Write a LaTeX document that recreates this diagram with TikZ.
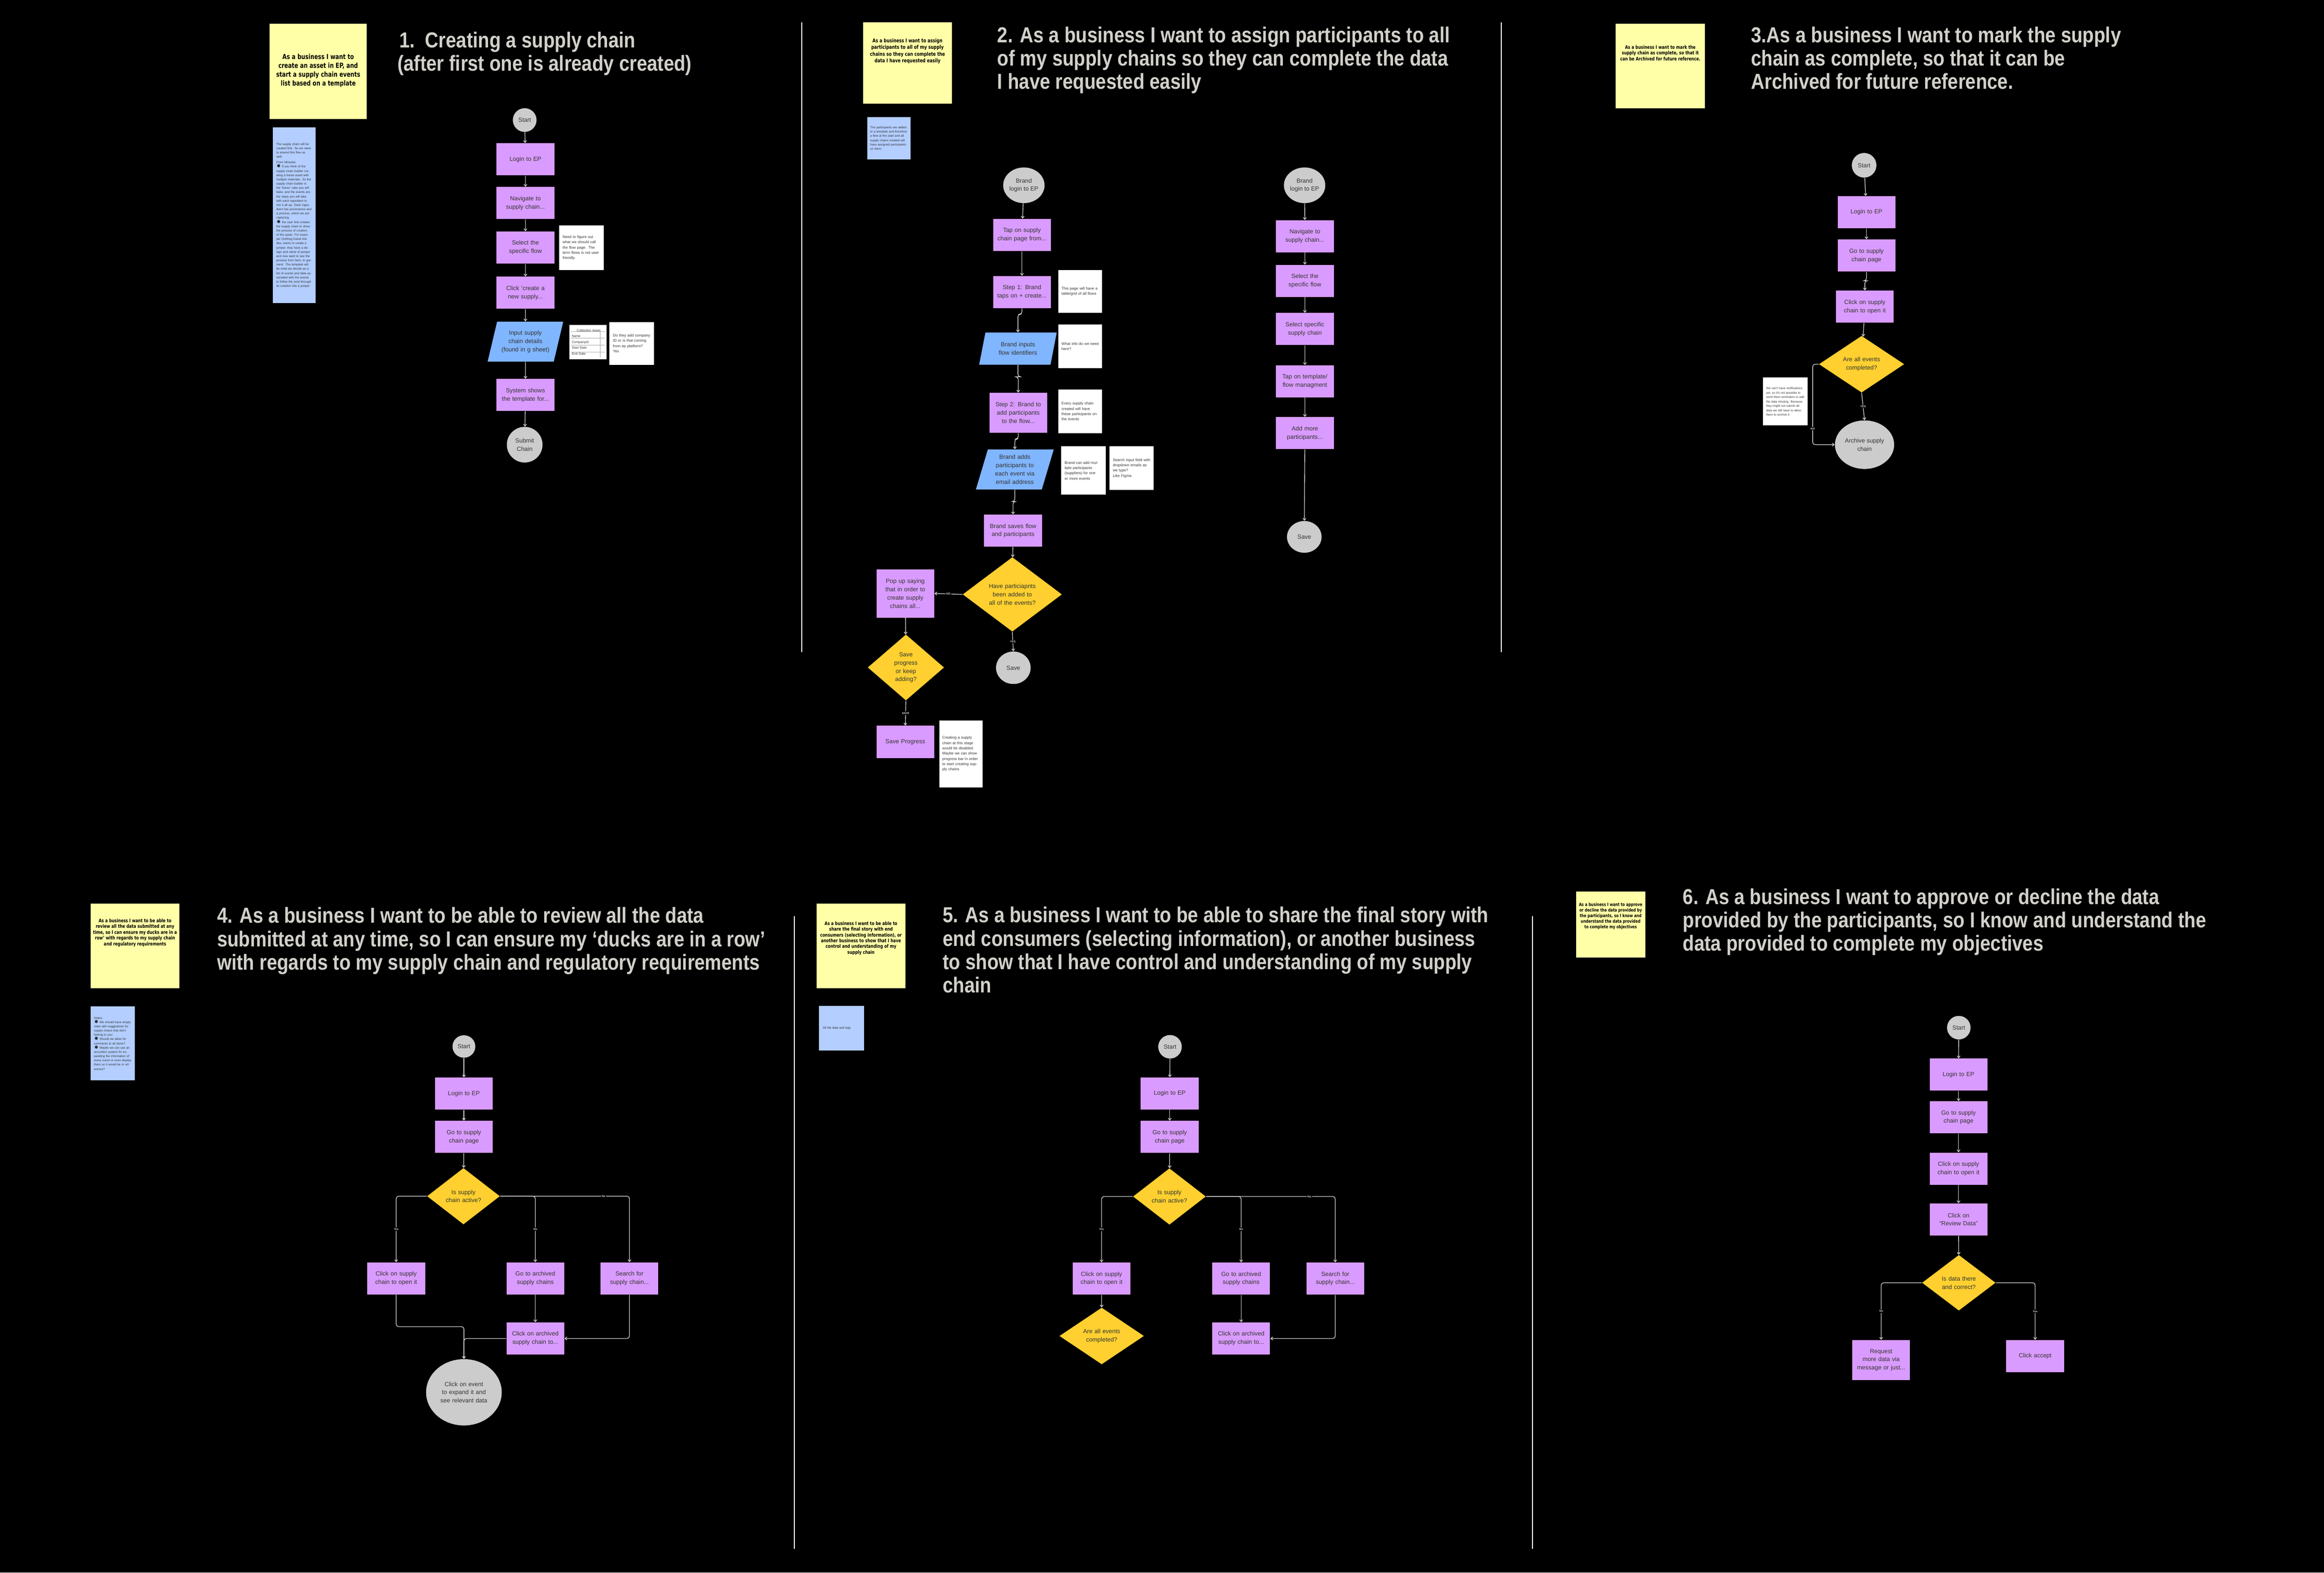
\documentclass[tikz,border=0pt]{standalone}
\usepackage{fontspec}
\setmainfont{Liberation Sans}
\newfontfamily\headfont[FakeStretch=0.86,Ligatures=TeX]{Liberation Sans}
\newfontfamily\stickfont[FakeStretch=0.78,Ligatures=TeX]{DejaVu Sans}
\usetikzlibrary{arrows.meta,shapes.geometric}
\definecolor{boxpurple}{HTML}{D99BFF}
\definecolor{ioblue}{HTML}{80B5FF}
\definecolor{decyellow}{HTML}{FFD02F}
\definecolor{termgray}{HTML}{CCCCCC}
\definecolor{stickyyellow}{HTML}{FFFFA8}
\definecolor{memoblue}{HTML}{B3CEFF}
\definecolor{headgray}{HTML}{D2D0CA}
\definecolor{linkgray}{HTML}{D8D8D8}
\definecolor{inkdark}{HTML}{333333}
\newcommand{\boxfont}{\fontsize{4.8}{6.6}\selectfont\hyphenpenalty=10000\exhyphenpenalty=10000}
\tikzset{
  box/.style={rectangle, fill=boxpurple, minimum width=1.62cm, minimum height=0.9cm, inner sep=0pt,
    text width=1.5cm, align=center, text=inkdark, font=\boxfont},
  io/.style={trapezium, trapezium left angle=70, trapezium right angle=110, trapezium stretches=true,
    fill=ioblue, inner sep=0pt, text width=1.35cm, align=center, text=inkdark, font=\boxfont},
  decision/.style={diamond, fill=decyellow, inner sep=0pt, text width=1.2cm, align=center, text=inkdark,
    font=\boxfont},
  terminal/.style={ellipse, fill=termgray, inner sep=0pt, align=center, text=inkdark, font=\boxfont},
  sticky/.style={rectangle, fill=stickyyellow, inner sep=0pt, text=black, align=center},
  memo/.style={rectangle, fill=memoblue, inner sep=1.2pt, anchor=north west, text=inkdark, align=left,
    font=\fontsize{2.4}{3.4}\selectfont},
  comment/.style={rectangle, fill=white, inner sep=1.5pt, anchor=north west, text=inkdark, align=left,
    font=\fontsize{3}{4.2}\selectfont},
  heading/.style={anchor=north west, inner sep=0pt, align=left, text=headgray,
    font=\headfont\bfseries\fontsize{17.3}{18.6}\selectfont},
  link/.style={draw=linkgray, line width=0.5pt, rounded corners=2pt, -{Straight Barb[length=1.6pt,width=2.4pt]}},
  tag/.style={fill=black, inner sep=0.6pt, text=linkgray, font=\bfseries\fontsize{2.2}{2.4}\selectfont},
  divider/.style={draw=white, line width=0.6pt}
}
\newcommand{\stick}[4]{\parbox[c][#1][t]{#2}{\centering\vspace*{#3}\stickfont\bfseries #4}}
\begin{document}
\begin{tikzpicture}[x=0.04156cm, y=-0.04156cm]
\fill[black] (0,0) rectangle (1568,1061);
\useasboundingbox (0,0) rectangle (1568,1061);

% panel dividers
\draw[divider] (541,15) -- (541,440);
\draw[divider] (1013,15) -- (1013,440);
\draw[divider] (536,618) -- (536,1045);
\draw[divider] (1034,618) -- (1034,1045);

% ---------- 1. creating a supply chain ----------
\node[sticky, minimum width=2.72cm, minimum height=2.67cm] (p1sticky) at (214.7,48.1)
  {\stick{2.67cm}{2.4cm}{0cm}{\vspace*{0.85cm}\fontsize{5.6}{7}\selectfont As a business I want to create an asset in EP, and start a supply chain events list based on a template}};
\node[memo, minimum width=1.19cm, minimum height=4.93cm, text width=1.0cm] (p1memo) at (184,85.8)
  {The supply chain will be created first. So we need to amend this flow as well.\\[1pt]
   From Miranda:\\
   $\bullet$ If you think of the supply chain builder creating a future asset with multiple materials. So the supply chain builder is the ‘future’ cake you will bake, and the events are the steps you will take with each ingredient to mix it all up. Each ingredient has provenance and a process, which we are capturing.\\
   $\bullet$ the user first creates the supply chain to show the process of creation of the asset. For example Clothing brand Adidas, wants to create a jumper, they have a design and name of jumper and now want to see the process from farm, to garment. The template will be what we decide as a list of events and data associated with the events to follow the wool through its creation into a jumper};
\node[heading] (p1head) at (268,21.4) {\hspace*{1.5pt}1.\ \ Creating a supply chain\\(after first one is already created)};

\node[terminal, minimum width=0.665cm, minimum height=0.665cm] (p1start) at (354,81) {Start};
\node[box] (p1login) at (354.5,107.5) {Login to EP};
\node[box] (p1nav) at (354.5,137) {Navigate to supply chain...};
\node[box] (p1flow) at (354.5,167) {Select the specific flow};
\node[box] (p1create) at (354.5,197.5) {Click ‘create a new supply...};
\node[io, minimum width=2.12cm, minimum height=1.12cm] (p1input) at (354.5,230.5) {Input supply chain details (found in g sheet)};
\node[box] (p1system) at (354.5,266.5) {System shows the template for...};
\node[terminal, minimum width=1cm, minimum height=1cm] (p1submit) at (354,300) {Submit\\Chain};

\node[comment, minimum width=1.25cm, minimum height=1.25cm, text width=1.05cm] (p1note) at (377,152)
  {Need to figure out what we should call the flow page. The term flows is not user friendly.};
\node[comment, minimum width=1.04cm, minimum height=0.96cm, text width=0.9cm, inner sep=1pt,
  font=\fontsize{2.6}{4.6}\selectfont] (p1table) at (384,219)
  {\hspace*{4pt}Collection Asset\\Name\\CompanyId\\Start Date\\End Date};
\foreach \r in {223.6,228.2,232.8,237.4}
  \draw[gray!70, line width=0.2pt] (385,\r) -- (408,\r);
\draw[gray!70, line width=0.2pt] (405,223.6) -- (405,241);
\node[comment, minimum width=1.25cm, minimum height=1.2cm, text width=1.05cm] (p1ask) at (411,217)
  {Do they add company ID or is that coming from ep platform? Yes};

\draw[link] (p1start) -- (p1login);
\draw[link] (p1login) -- (p1nav);
\draw[link] (p1nav) -- (p1flow);
\draw[link] (p1flow) -- (p1create);
\draw[link] (p1create) -- (p1input);
\draw[link] (p1input) -- (p1system);
\draw[link] (p1system) -- (p1submit);

% ---------- 2. assign participants ----------
\node[sticky, minimum width=2.5cm, minimum height=2.27cm] (p2sticky) at (612.3,42.5)
  {\stick{2.27cm}{2.2cm}{0cm}{\vspace*{0.45cm}\fontsize{4.2}{5.3}\selectfont As a business I want to assign participants to all of my supply chains so they can complete the data I have requested easily}};
\node[memo, minimum width=1.22cm, minimum height=1.19cm, text width=1.05cm] (p2memo) at (584.9,78.7)
  {The participants are added to a template and therefore a flow at the start and all supply chains created will have assigned participants on them};
\node[heading] (p2head) at (672.8,17.8) {2. As a business I want to assign participants to all\\of my supply chains so they can complete the data\\I have requested easily};

\node[terminal, minimum width=1.16cm, minimum height=1cm] (p2login) at (690.8,125) {Brand\\login to EP};
\node[box] (p2tap) at (689.5,158.5) {Tap on supply chain page from...};
\node[box] (p2step) at (689.5,197) {Step 1: Brand taps on + create...};
\node[io, minimum width=2.18cm, minimum height=0.9cm] (p2ident) at (686.8,235.2) {Brand inputs flow identifiers};
\node[box, minimum height=1.12cm] (p2add) at (687,278.5) {Step 2: Brand to add participants to the flow...};
\node[io, minimum width=2.19cm, minimum height=1.12cm] (p2email) at (684.7,316.7) {Brand adds participants to each event via email address};
\node[box] (p2saves) at (683.5,358) {Brand saves flow and participants};
\node[decision, minimum width=2.78cm, minimum height=1.89cm, text width=1.5cm] (p2have) at (683,401) {Have particiapnts been added to all of the events?};
\node[box, minimum height=1.35cm, text width=1.3cm] (p2popup) at (610.8,400.4) {Pop up saying that in order to create supply chains all...};
\node[decision, minimum width=2.14cm, minimum height=1.53cm, text width=1.0cm] (p2keep) at (611.2,450.3) {Save progress or keep adding?};
\node[terminal, minimum width=0.97cm, minimum height=0.91cm] (p2save) at (683.7,450.5) {Save};
\node[box] (p2progress) at (610.8,500.5) {Save Progress};

\node[comment, minimum width=1.23cm, minimum height=1.2cm, text width=1.05cm] (p2grid) at (713.9,182) {This page will have a table/grid of all flows};
\node[comment, minimum width=1.23cm, minimum height=1.22cm, text width=1.05cm] (p2info) at (713.9,218.8) {What info do we need here?};
\node[comment, minimum width=1.23cm, minimum height=1.22cm, text width=1.05cm] (p2every) at (713.9,262.7) {Every supply chain created will have these participants on the events};
\node[comment, minimum width=1.24cm, minimum height=1.35cm, text width=1.05cm] (p2multi) at (715.9,301) {Brand can add multiple participants (suppliers) for one or more events};
\node[comment, minimum width=1.23cm, minimum height=1.22cm, text width=1.05cm] (p2search) at (748.5,301) {Search input field with dropdown emails as we type?\\Like Figma};
\node[comment, minimum width=1.21cm, minimum height=1.88cm, text width=1.05cm] (p2disabled) at (633.7,485.8) {Creating a supply chain at this stage would be disabled.\\Maybe we can show progress bar in order to start creating supply chains};

\node[terminal, minimum width=1.16cm, minimum height=1cm] (p2blogin) at (880.2,125) {Brand\\login to EP};
\node[box] (p2bnav) at (880.4,159.4) {Navigate to supply chain...};
\node[box] (p2bflow) at (880.4,189.5) {Select the specific flow};
\node[box] (p2bchain) at (880.4,222) {Select specific supply chain};
\node[box] (p2btemp) at (880.4,257.2) {Tap on template/ flow managment};
\node[box] (p2bmore) at (880.4,292.2) {Add more participants...};
\node[terminal, minimum width=0.97cm, minimum height=0.89cm] (p2bsave) at (880,362.2) {Save};

\draw[link] (p2login) -- (p2tap);
\draw[link] (p2tap) -- (p2step);
\draw[link] (p2step.south) -- ++(0,4) -| (p2ident.north);
\draw[link] (p2ident.south) -- ++(0,8) -| (p2add.north);
\draw[link] (p2add.south) -- ++(0,4) -| (p2email.north);
\draw[link] (p2email.south) -- ++(0,8) -| (p2saves.north);
\draw[link] (p2saves) -- (p2have);
\draw[link] (p2have.west) -- node[tag]{NO} (p2popup.east);
\draw[link] (p2have.south) -- node[tag]{YES} (p2save.north);
\draw[link] (p2popup) -- (p2keep);
\draw[link] (p2keep.south) -- node[tag]{SAVE} (p2progress.north);
\draw[link] (p2blogin) -- (p2bnav);
\draw[link] (p2bnav) -- (p2bflow);
\draw[link] (p2bflow) -- (p2bchain);
\draw[link] (p2bchain) -- (p2btemp);
\draw[link] (p2btemp) -- (p2bmore);
\draw[link] (p2bmore) -- (p2bsave);

% ---------- 3. mark as complete ----------
\node[sticky, minimum width=2.5cm, minimum height=2.37cm] (p3sticky) at (1120.2,44.5)
  {\stick{2.37cm}{2.35cm}{0.6cm}{\fontsize{3.9}{4.8}\selectfont As a business I want to mark the supply chain as complete, so that it can be Archived for future reference.}};
\node[heading] (p3head) at (1181.3,17.8) {3.As a business I want to mark the supply\\chain as complete, so that it can be\\Archived for future reference.};

\node[terminal, minimum width=0.69cm, minimum height=0.69cm] (p3start) at (1257.7,111.5) {Start};
\node[box] (p3login) at (1259.3,143.2) {Login to EP};
\node[box] (p3goto) at (1259.3,172.4) {Go to supply chain page};
\node[box] (p3open) at (1258.2,206.9) {Click on supply chain to open it};
\node[decision, minimum width=2.39cm, minimum height=1.58cm] (p3dec) at (1256,245.7) {Are all events completed?};
\node[terminal, minimum width=1.66cm, minimum height=1.36cm] (p3arc) at (1258,300) {Archive supply\\chain};
\node[comment, minimum width=1.25cm, minimum height=1.34cm, text width=1.08cm, font=\fontsize{2.4}{3.5}\selectfont] (p3note) at (1189.4,254.6)
  {We can't have notifications yet, so it's not possible to send them reminders to add the data missing. Because they might not submit all data we still have to allow them to archive it};
\coordinate (p3no) at (1223,245.7);

\draw[link] (p3start) -- (p3login);
\draw[link] (p3login) -- (p3goto);
\draw[link] (p3goto.south) -- ++(0,6) -| (p3open.north);
\draw[link] (p3open) -- (p3dec);
\draw[link] (p3dec.south) -- node[tag]{YES} (p3arc.north);
\draw[link] (p3dec.west) -- (p3no) |- node[tag, pos=0.4]{NO} (p3arc.west);

% ---------- 4. review all data ----------
\node[sticky, minimum width=2.5cm, minimum height=2.37cm] (p4sticky) at (91.1,638.2)
  {\stick{2.37cm}{2.35cm}{0.42cm}{\fontsize{3.9}{4.6}\selectfont As a business I want to be able to review all the data submitted at any time, so I can ensure my ducks are in a row’ with regards to my supply chain and regulatory requirements}};
\node[memo, minimum width=1.24cm, minimum height=2.07cm, text width=1.05cm] (p4memo) at (61,678.9)
  {Notes:\\
   $\bullet$ We should have empty state with suggestions for supply chains that don't belong to you\\
   $\bullet$ Should we allow for comments to all items?\\
   $\bullet$ Maybe we can use an accordion system for expanding the information of every event or even display them so it would be in reference?};
\node[heading] (p4head) at (146.3,612) {4. As a business I want to be able to review all the data\\submitted at any time, so I can ensure my ‘ducks are in a row’\\with regards to my supply chain and regulatory requirements};

\node[terminal, minimum width=0.64cm, minimum height=0.63cm] (p4start) at (313,706) {Start};
\node[box] (p4login) at (313,737.8) {Login to EP};
\node[box] (p4goto) at (313,767) {Go to supply chain page};
\node[decision, minimum width=2.04cm, minimum height=1.58cm, text width=1cm] (p4dec) at (312.7,807) {Is supply chain active?};
\node[box] (p4open) at (267.3,862.5) {Click on supply chain to open it};
\node[box] (p4arch) at (361.2,862.5) {Go to archived supply chains};
\node[box] (p4find) at (424.7,862.5) {Search for supply chain...};
\node[box] (p4pick) at (361.2,903) {Click on archived supply chain to...};
\node[terminal, minimum width=2.12cm, minimum height=1.86cm, text width=1.5cm] (p4event) at (313,939.3) {Click on event to expand it and see relevant data};
\coordinate (p4join) at (313,895);

\draw[link] (p4start) -- (p4login);
\draw[link] (p4login) -- (p4goto);
\draw[link] (p4goto) -- (p4dec);
\draw[link] (p4dec.west) -| node[tag, pos=0.75]{Yes} (p4open.north);
\draw[link] (p4dec.east) -| node[tag, pos=0.75]{No} (p4arch.north);
\draw[link] (p4dec.east) -| node[tag, pos=0.4]{No} (p4find.north);
\draw[link] (p4open.south) |- (p4join) -- (p4event.north);
\draw[link] (p4arch) -- (p4pick);
\draw[link] (p4find.south) |- (p4pick.east);
\draw[link] (p4pick.west) -| (p4event.north);

% ---------- 5. share the final story ----------
\node[sticky, minimum width=2.49cm, minimum height=2.37cm] (p5sticky) at (580.9,638.1)
  {\stick{2.37cm}{2.35cm}{0.5cm}{\fontsize{3.9}{4.6}\selectfont As a business I want to be able to share the final story with end consumers (selecting information), or another business to show that I have control and understanding of my supply chain}};
\node[memo, minimum width=1.26cm, minimum height=1.25cm, text width=1.05cm] (p5memo) at (552.5,678.4) {All the data and logs};
\node[heading] (p5head) at (635.9,611.7) {5. As a business I want to be able to share the final story with\\end consumers (selecting information), or another business\\to show that I have control and understanding of my supply\\chain};

\node[terminal, minimum width=0.66cm, minimum height=0.66cm] (p5start) at (789.4,706.2) {Start};
\node[box] (p5login) at (789.2,737.7) {Login to EP};
\node[box] (p5goto) at (789.2,767) {Go to supply chain page};
\node[decision, minimum width=2.04cm, minimum height=1.58cm, text width=1cm] (p5dec) at (789,807.2) {Is supply chain active?};
\node[box] (p5open) at (743.2,862.6) {Click on supply chain to open it};
\node[box] (p5arch) at (837.4,862.6) {Go to archived supply chains};
\node[box] (p5find) at (900.9,862.6) {Search for supply chain...};
\node[box] (p5pick) at (837.4,903) {Click on archived supply chain to...};
\node[decision, minimum width=2.37cm, minimum height=1.55cm] (p5done) at (743.3,901.3) {Are all events completed?};

\draw[link] (p5start) -- (p5login);
\draw[link] (p5login) -- (p5goto);
\draw[link] (p5goto) -- (p5dec);
\draw[link] (p5dec.west) -| node[tag, pos=0.75]{Yes} (p5open.north);
\draw[link] (p5dec.east) -| node[tag, pos=0.75]{No} (p5arch.north);
\draw[link] (p5dec.east) -| node[tag, pos=0.4]{No} (p5find.north);
\draw[link] (p5open) -- (p5done);
\draw[link] (p5arch) -- (p5pick);
\draw[link] (p5find.south) |- (p5pick.east);

% ---------- 6. approve or decline ----------
\node[sticky, minimum width=1.94cm, minimum height=1.85cm] (p6sticky) at (1086.7,623.7)
  {\stick{1.85cm}{1.8cm}{0.32cm}{\fontsize{3.6}{4.4}\selectfont As a business I want to approve or decline the data provided by the participants, so I know and understand the data provided to complete my objectives}};
\node[heading] (p6head) at (1135.3,599.3) {6. As a business I want to approve or decline the data\\provided by the participants, so I know and understand the\\data provided to complete my objectives};

\node[terminal, minimum width=0.66cm, minimum height=0.66cm] (p6start) at (1321.6,693.3) {Start};
\node[box] (p6login) at (1321.4,725) {Login to EP};
\node[box] (p6goto) at (1321.4,753.8) {Go to supply chain page};
\node[box] (p6open) at (1321.4,788.4) {Click on supply chain to open it};
\node[box] (p6review) at (1321.4,822.7) {Click on “Review Data”};
\node[decision, minimum width=2.06cm, minimum height=1.56cm, text width=1cm] (p6dec) at (1321.6,865.4) {Is data there and correct?};
\node[box, minimum height=1.12cm, text width=1.4cm] (p6request) at (1269.2,917.5) {Request more data via message or just...};
\node[box] (p6accept) at (1373.1,914.9) {Click accept};

\draw[link] (p6start) -- (p6login);
\draw[link] (p6login) -- (p6goto);
\draw[link] (p6goto) -- (p6open);
\draw[link] (p6open) -- (p6review);
\draw[link] (p6review) -- (p6dec);
\draw[link] (p6dec.west) -| node[tag, pos=0.75]{No} (p6request.north);
\draw[link] (p6dec.east) -| node[tag, pos=0.75]{Yes} (p6accept.north);
\end{tikzpicture}
\end{document}
